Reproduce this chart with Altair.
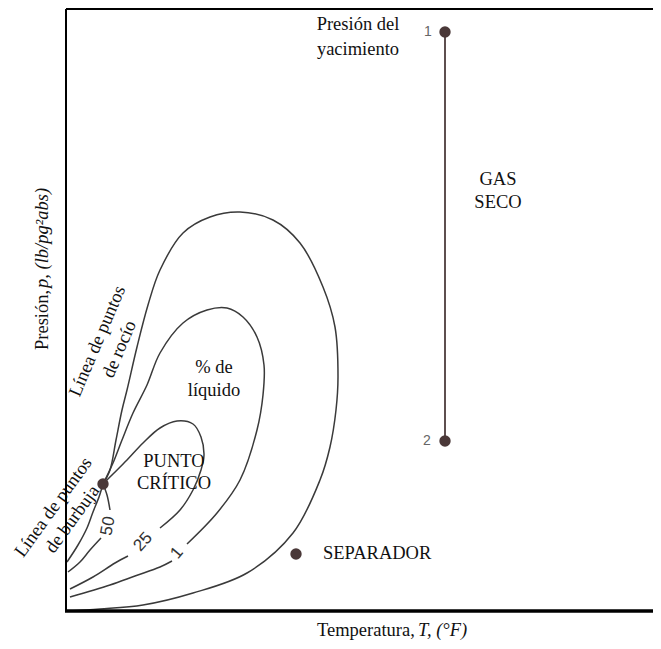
import altair as alt
import pandas as pd

# ---- values (T to the right, p upward, arbitrary units) ----
# outer phase envelope (dew-point line, around to the bottom-left corner)
env_T = [37, 44, 50, 56, 61, 71, 82, 94, 117, 144, 174, 207, 234, 257, 269, 272, 270, 264, 254, 227, 181, 127, 77, 34, 2]
env_p = [127, 141, 171, 201, 221, 264, 306, 341, 378, 394, 399, 391, 368, 324, 284, 234, 201, 164, 131, 78, 38, 18, 6, 2, 0]

# 1 % liquid line (two pieces around its label)
q1a_T = [37, 47, 56, 67, 81, 94, 117, 141, 161, 177, 191, 198, 197, 191, 174, 151, 121]
q1a_p = [127, 148, 171, 198, 226, 258, 288, 301, 303, 294, 274, 246, 216, 181, 131, 98, 67]
q1b_T = [106, 94, 69, 44, 4]
q1b_p = [50, 44, 35, 26, 14]

# 25 % liquid line
q25a_T = [37, 47, 61, 77, 94, 111, 127, 135, 138, 135, 127, 114, 94]
q25a_p = [127, 137, 151, 168, 183, 190, 187, 174, 156, 141, 121, 101, 83]
q25b_T = [62, 49, 27, 4]
q25b_p = [55, 48, 34, 22]

# 50 % liquid line
q50a_T = [37, 41, 44]
q50a_p = [127, 116, 101]
q50b_T = [35, 24, 14, 2]
q50b_p = [73, 61, 49, 39]

# bubble-point line
bub_T = [37, 33, 27, 21, 12, 1]
bub_p = [127, 114, 99, 83, 66, 49]

# reservoir path 1 -> 2 (dry gas)
path_T = [379, 379]
path_p = [579, 170]

# marked points: 1, 2, separator, critical point
pts_T = [379, 379, 230, 37]
pts_p = [579, 170, 57, 127]
pts_name = ["1", "2", "SEPARADOR", "PUNTO CRÍTICO"]

# point numbers
num_text = ["1", "2"]
num_T = [362, 361]
num_p = [579, 170]

# horizontal annotations
ann_text = ["Presión del", "yacimiento", "GAS", "SECO", "PUNTO", "CRÍTICO", "% de", "líquido"]
ann_T = [292, 292, 432, 432, 108, 108, 148, 148]
ann_p = [587, 562, 432, 409, 150, 128, 244, 221]

sep_text = ["SEPARADOR"]
sep_T = [257]
sep_p = [58]

# labels along the envelope
dew_text = ["Línea de puntos", "de rocío"]
dew_lab_T = [31, 53]
dew_lab_p = [270, 262]

bub_text = ["Línea de puntos", "de burbuja"]
bub_lab_T = [-13, 6]
bub_lab_p = [104, 92]

# quality labels
qlab_text = ["50", "25", "1"]
qlab_T = [42, 77, 111]
qlab_p = [85, 69, 58]
qlab_angle = [280, 312, 310]

# ---- build tables ----
segments = [
    ("env", env_T, env_p),
    ("q1a", q1a_T, q1a_p), ("q1b", q1b_T, q1b_p),
    ("q25a", q25a_T, q25a_p), ("q25b", q25b_T, q25b_p),
    ("q50a", q50a_T, q50a_p), ("q50b", q50b_T, q50b_p),
    ("bub", bub_T, bub_p),
]
rows = []
for name, ts, ps in segments:
    for i, (t, p) in enumerate(zip(ts, ps)):
        rows.append({"seg": name, "i": i, "T": t, "p": p})
curves = pd.DataFrame(rows)

W, H = 587, 602
xs = alt.Scale(domain=[0, W], nice=False, zero=False)
ys = alt.Scale(domain=[0, H], nice=False, zero=False)
SERIF = "Liberation Serif"
SANS = "Liberation Sans"
FS = 18.5

X = lambda: alt.X("T:Q", scale=xs, axis=None)
Y = lambda: alt.Y("p:Q", scale=ys, axis=None)

lines = alt.Chart(curves).mark_line(
    interpolate="catmull-rom", color="#3a3a3a", strokeWidth=1.5
).encode(x=X(), y=Y(), detail="seg:N", order="i:Q")

path = alt.Chart(pd.DataFrame({"T": path_T, "p": path_p})).mark_line(
    color="#5e4f4f", strokeWidth=2
).encode(x=X(), y=Y())

points = alt.Chart(pd.DataFrame({"T": pts_T, "p": pts_p, "name": pts_name})).mark_circle(
    size=130, color="#4a3838", opacity=1
).encode(x=X(), y=Y())

nums = alt.Chart(pd.DataFrame({"T": num_T, "p": num_p, "t": num_text})).mark_text(
    font=SANS, fontSize=14, color="#666", align="center", baseline="middle"
).encode(x=X(), y=Y(), text="t:N")

ann = alt.Chart(pd.DataFrame({"T": ann_T, "p": ann_p, "t": ann_text})).mark_text(
    font=SERIF, fontSize=FS, color="#111", align="center", baseline="middle"
).encode(x=X(), y=Y(), text="t:N")

sep = alt.Chart(pd.DataFrame({"T": sep_T, "p": sep_p, "t": sep_text})).mark_text(
    font=SERIF, fontSize=FS, color="#111", align="left", baseline="middle"
).encode(x=X(), y=Y(), text="t:N")

dew_lab = alt.Chart(pd.DataFrame({"T": dew_lab_T, "p": dew_lab_p, "t": dew_text})).mark_text(
    font=SERIF, fontSize=FS, color="#111", align="center", baseline="middle", angle=293
).encode(x=X(), y=Y(), text="t:N")

bub_lab = alt.Chart(pd.DataFrame({"T": bub_lab_T, "p": bub_lab_p, "t": bub_text})).mark_text(
    font=SERIF, fontSize=FS, color="#111", align="center", baseline="middle", angle=306
).encode(x=X(), y=Y(), text="t:N")

qlab = alt.Chart(pd.DataFrame({"T": qlab_T, "p": qlab_p, "t": qlab_text, "a": qlab_angle})).mark_text(
    font=SANS, fontSize=17, color="#333", align="center", baseline="middle"
).encode(x=X(), y=Y(), text="t:N", angle=alt.Angle("a:Q", scale=None))

# frame lines: top, left, bottom
frame = pd.DataFrame({"k": [0]})
top = alt.Chart(frame).mark_rule(color="black", strokeWidth=2).encode(
    x=alt.value(0), x2=alt.value(W), y=alt.value(0)
)
left = alt.Chart(frame).mark_rule(color="black", strokeWidth=2).encode(
    x=alt.value(0), y=alt.value(0), y2=alt.value(H + 1)
)
bottom = alt.Chart(frame).mark_rule(color="black", strokeWidth=3.5).encode(
    x=alt.value(-1), x2=alt.value(W), y=alt.value(H)
)

# axis titles (mixed upright / italic)
yt1 = alt.Chart(pd.DataFrame({"t": ["Presión,"]})).mark_text(
    font=SERIF, fontSize=FS, color="#111", align="left", baseline="middle", angle=270
).encode(x=alt.value(-24), y=alt.value(341), text="t:N")
yt2 = alt.Chart(pd.DataFrame({"t": ["p, (lb/pg²abs)"]})).mark_text(
    font=SERIF, fontSize=FS, fontStyle="italic", color="#111", align="left", baseline="middle", angle=270
).encode(x=alt.value(-24), y=alt.value(279), text="t:N")
xt1 = alt.Chart(pd.DataFrame({"t": ["Temperatura,"]})).mark_text(
    font=SERIF, fontSize=FS, color="#111", align="left", baseline="middle"
).encode(x=alt.value(251), y=alt.value(621), text="t:N")
xt2 = alt.Chart(pd.DataFrame({"t": ["T, (°F)"]})).mark_text(
    font=SERIF, fontSize=FS, fontStyle="italic", color="#111", align="left", baseline="middle"
).encode(x=alt.value(352), y=alt.value(621), text="t:N")

chart = alt.layer(
    lines, path, points, nums, ann, sep, dew_lab, bub_lab, qlab,
    top, left, bottom, yt1, yt2, xt1, xt2
).properties(
    width=W, height=H, autosize="none",
    padding={"left": 58, "top": 1, "right": 0, "bottom": 30},
).configure_view(stroke=None)

chart.save("out.html", embed_options={"renderer": "svg", "actions": False})
